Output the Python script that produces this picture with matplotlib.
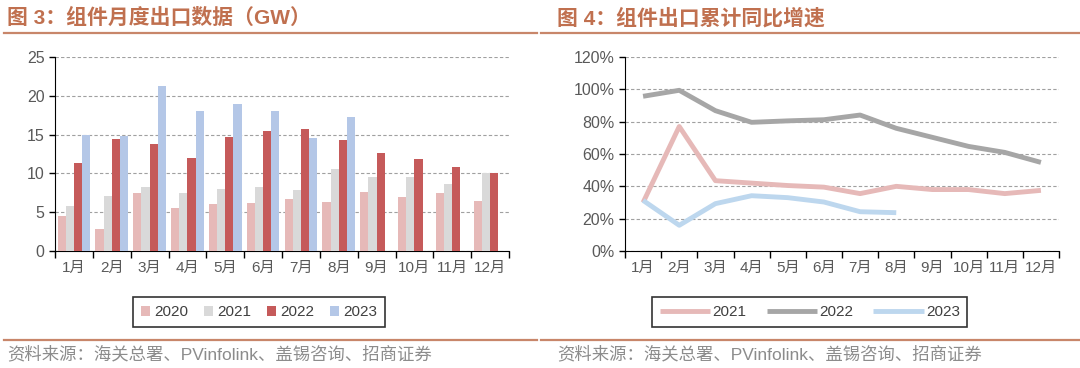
import numpy as np
import matplotlib.pyplot as plt
from matplotlib.lines import Line2D

plt.rcParams['font.family'] = ['Liberation Sans', 'Noto Sans CJK SC', 'DejaVu Sans']

months = ["1月", "2月", "3月", "4月", "5月", "6月", "7月", "8月", "9月", "10月", "11月", "12月"]

# monthly module exports (GW)
exp_2020 = [4.5, 2.8, 7.5, 5.5, 6.0, 6.2, 6.7, 6.3, 7.6, 6.9, 7.5, 6.4]
exp_2021 = [5.8, 7.1, 8.2, 7.5, 8.0, 8.3, 7.8, 10.6, 9.5, 9.6, 8.6, 10.0]
exp_2022 = [11.3, 14.4, 13.8, 12.0, 14.7, 15.4, 15.7, 14.3, 12.6, 11.8, 10.8, 10.0]
exp_2023 = [15.0, 14.8, 21.2, 18.1, 19.0, 18.1, 14.6, 17.3]

# cumulative yoy growth (%)
yoy_2021 = [30, 77, 43.5, 42, 40.5, 39.5, 35.5, 40, 38, 38, 35.5, 37.5]
yoy_2022 = [95.7, 99.4, 86.8, 79.6, 80.5, 81.2, 84.1, 75.9, 70.3, 64.7, 61.0, 54.8]
yoy_2023 = [31.3, 15.9, 29.3, 34.2, 33.0, 30.3, 24.3, 23.7]

bar_colors = ["#E6B9B8", "#D9D9D9", "#C55A5A", "#B4C7E7"]
line_colors = ["#E6B9B8", "#A6A6A6", "#BDD7EE"]
title_color = "#C0704F"
text_color = "#595959"
cjk = ['Liberation Sans', 'Noto Sans CJK SC']

fig = plt.figure(figsize=(10.8, 3.68), dpi=100)


def style_axes(ax):
    for s in ("top", "right"):
        ax.spines[s].set_visible(False)
    ax.spines["left"].set_color("black")
    ax.spines["bottom"].set_color("black")
    ax.yaxis.grid(True, linestyle=(0, (3, 2)), color="#A0A0A0", linewidth=0.8)
    ax.set_axisbelow(True)
    ax.tick_params(axis="y", labelsize=11.5, labelcolor=text_color, length=4, width=1, color="black")
    ax.tick_params(axis="x", which="minor", length=5, width=1, color="black")
    ax.tick_params(axis="x", which="major", length=0, labelsize=11, labelcolor=text_color, pad=7)
    x = np.arange(12)
    ax.set_xticks(x)
    ax.set_xticklabels(months)
    ax.set_xticks(np.arange(13) - 0.5, minor=True)
    ax.set_xlim(-0.5, 11.5)


# ---- left: monthly bars ----
ax1 = fig.add_axes([55 / 1080, 1 - 251 / 368, 454 / 1080, 194 / 368])
x = np.arange(12)
w = 0.215
series = [exp_2020, exp_2021, exp_2022, exp_2023]
labels = ["2020", "2021", "2022", "2023"]
for i, (vals, c, lab) in enumerate(zip(series, bar_colors, labels)):
    ax1.bar(x[:len(vals)] + (i - 1.5) * w, vals, width=w, color=c, label=lab, zorder=3)
ax1.set_ylim(0, 25)
ax1.set_yticks(range(0, 26, 5))
style_axes(ax1)
leg1 = ax1.legend(loc="upper center", bbox_to_anchor=(0.45, -0.2), ncol=4, frameon=True,
                  fancybox=False, edgecolor="black", fontsize=11, handlelength=0.6,
                  handleheight=0.6, handletextpad=0.3, columnspacing=1.0, borderpad=0.5)
leg1.get_frame().set_linewidth(1.2)
for t in leg1.get_texts():
    t.set_color("#404040")

# ---- right: cumulative yoy lines ----
ax2 = fig.add_axes([625 / 1080, 1 - 251 / 368, 434 / 1080, 194 / 368])
for vals, c, lab in zip([yoy_2021, yoy_2022, yoy_2023], line_colors, ["2021", "2022", "2023"]):
    ax2.plot(x[:len(vals)], vals, color=c, linewidth=3.5, label=lab, zorder=3,
             solid_capstyle="butt")
ax2.set_ylim(0, 120)
ax2.set_yticks(range(0, 121, 20))
ax2.set_yticklabels([f"{v}%" for v in range(0, 121, 20)])
style_axes(ax2)
leg2 = ax2.legend(loc="upper center", bbox_to_anchor=(0.426, -0.2), ncol=3, frameon=True,
                  fancybox=False, edgecolor="black", fontsize=11, handlelength=3.3,
                  handletextpad=0.15, columnspacing=1.3, borderpad=0.5)
leg2.get_frame().set_linewidth(1.2)
for t in leg2.get_texts():
    t.set_color("#404040")

# titles, rules, source notes
fig.text(7 / 1080, 1 - 18 / 368, "图 3：组件月度出口数据（GW）", color=title_color,
         fontsize=15, fontweight="bold", va="center", ha="left", family=cjk)
fig.text(557 / 1080, 1 - 18 / 368, "图 4：组件出口累计同比增速", color=title_color,
         fontsize=15, fontweight="bold", va="center", ha="left", family=cjk)
for x0, x1 in [(4, 537), (541, 1080)]:
    fig.add_artist(Line2D([x0 / 1080, x1 / 1080], [1 - 33 / 368] * 2, color="#C8866A", linewidth=1.6))
    fig.add_artist(Line2D([x0 / 1080, x1 / 1080], [1 - 340 / 368] * 2, color="#C8866A", linewidth=1.6))
src = "资料来源：海关总署、PVinfolink、盖锡咨询、招商证券"
fig.text(7 / 1080, 1 - 354 / 368, src, color="#8C8C8C", fontsize=12.5, va="center", ha="left")
fig.text(557 / 1080, 1 - 354 / 368, src, color="#8C8C8C", fontsize=12.5, va="center", ha="left")

fig.savefig("out.png", dpi=100)
